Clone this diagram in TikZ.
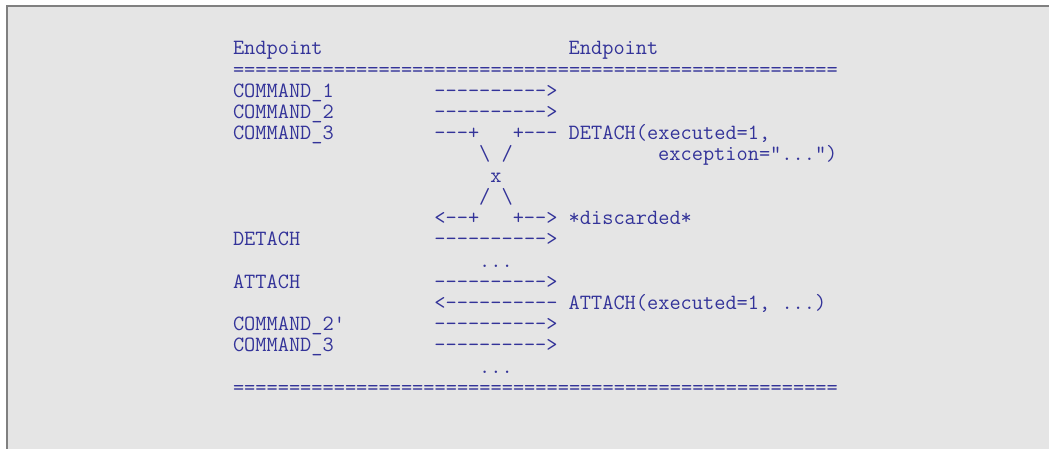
\documentclass[tikz,border=0pt]{standalone}
\usepackage{fontspec}
\setmonofont{Latin Modern Mono}
\definecolor{codeblue}{RGB}{51,51,153}
\definecolor{panelgray}{RGB}{229,229,229}
\definecolor{framegray}{RGB}{128,128,128}
% a rule of 54 '=' characters
\newcommand{\eqten}{==========}
\newcommand{\eqrule}{\eqten\eqten\eqten\eqten\eqten====}
\tikzset{
  txt/.style={anchor=base west, inner sep=0pt, outer sep=0pt, text=codeblue,
    font=\ttfamily\fontsize{21.75pt}{21.2pt}\selectfont},
  grid/.style={shift={(233pt,-55pt)}, x=11.19pt, y=-21.2pt}
}
\begin{document}
\begin{tikzpicture}[x=1pt,y=-1pt]
  \useasboundingbox (0,0) rectangle (1049,449);
  % panel with a frame on its top and left edges
  \fill[panelgray] (6,6) rectangle (1049,449);
  \draw[framegray, line width=2pt] (6.5,449) -- (6.5,6.5) -- (1049,6.5);

  \begin{scope}[grid]
    % header
    \node[txt] (epL) at (0,0) {Endpoint};
    \node[txt] (epR) at (30,0) {Endpoint};
    \node[txt] (ruleTop) at (0,1) {\eqrule};
    % commands sent before the detach
    \node[txt] (c1) at (0,2) {COMMAND\_1};
    \node[txt] (a1) at (18,2) {---------->};
    \node[txt] (c2) at (0,3) {COMMAND\_2};
    \node[txt] (a2) at (18,3) {---------->};
    \node[txt] (c3) at (0,4) {COMMAND\_3};
    \node[txt] (a3l) at (18,4) {---+};
    \node[txt] (a3r) at (25,4) {+---};
    \node[txt] (det) at (30,4) {DETACH(executed=1,};
    \node[txt] (exc) at (38,5) {exception="...")};
    % crossing
    \node[txt] (bs1) at (22,5) {\textbackslash};
    \node[txt] (sl1) at (24,5) {/};
    \node[txt] (cross) at (23,6) {x};
    \node[txt] (sl2) at (22,7) {/};
    \node[txt] (bs2) at (24,7) {\textbackslash};
    \node[txt] (b1) at (18,8) {<--+};
    \node[txt] (b2) at (25,8) {+-->};
    \node[txt] (disc) at (30,8) {*discarded*};
    % detach / attach
    \node[txt] (dL) at (0,9) {DETACH};
    \node[txt] (a4) at (18,9) {---------->};
    \node[txt] (dots1) at (22,10) {...};
    \node[txt] (atL) at (0,11) {ATTACH};
    \node[txt] (a5) at (18,11) {---------->};
    \node[txt] (a6) at (18,12) {<----------};
    \node[txt] (atR) at (30,12) {ATTACH(executed=1, ...)};
    % resent commands
    \node[txt] (c2p) at (0,13) {COMMAND\_2'};
    \node[txt] (a7) at (18,13) {---------->};
    \node[txt] (c3b) at (0,14) {COMMAND\_3};
    \node[txt] (a8) at (18,14) {---------->};
    \node[txt] (dots2) at (22,15) {...};
    \node[txt] (ruleBot) at (0,16) {\eqrule};
  \end{scope}
\end{tikzpicture}
\end{document}
